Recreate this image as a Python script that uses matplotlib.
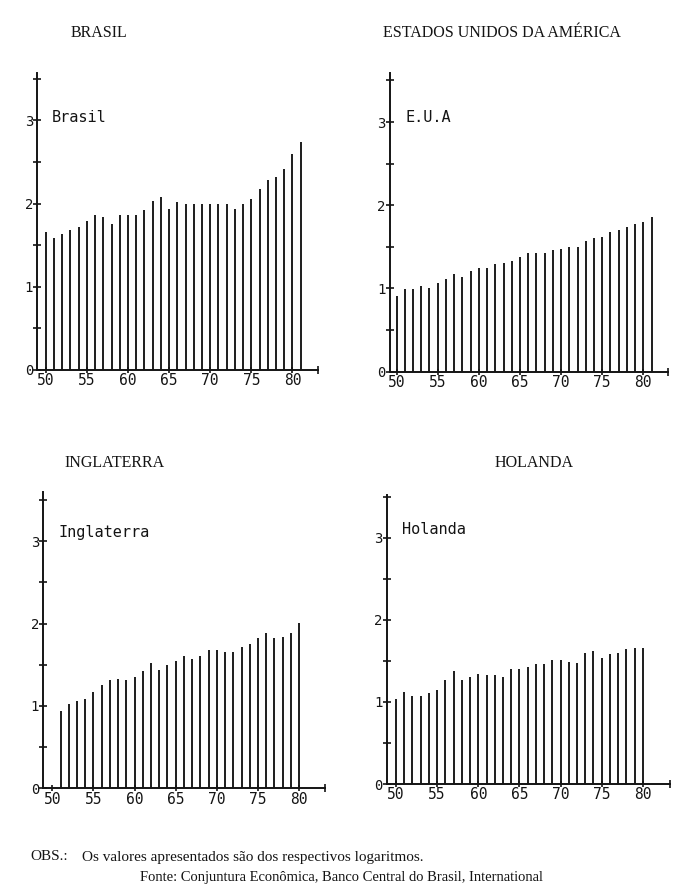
import matplotlib
matplotlib.use("Agg")
import matplotlib.pyplot as plt
from matplotlib.ticker import FixedLocator

# ---------------- data ----------------
years_bra = list(range(50, 82))
brasil = [1.66, 1.59, 1.64, 1.68, 1.72, 1.79, 1.86, 1.84, 1.76, 1.86, 1.86, 1.86,
          1.92, 2.03, 2.08, 1.94, 2.02, 2.00, 2.00, 2.00, 2.00, 2.00, 2.00, 1.94,
          2.00, 2.06, 2.18, 2.28, 2.32, 2.42, 2.60, 2.74]

years_eua = list(range(50, 82))
eua = [0.915, 0.99, 0.99, 1.03, 1.00, 1.07, 1.115, 1.175, 1.14, 1.21, 1.25, 1.25,
       1.29, 1.31, 1.33, 1.375, 1.43, 1.43, 1.43, 1.46, 1.48, 1.50, 1.50, 1.57,
       1.61, 1.62, 1.68, 1.70, 1.745, 1.78, 1.80, 1.865]

years_ing = list(range(51, 81))
inglaterra = [0.94, 1.02, 1.06, 1.085, 1.17, 1.25, 1.31, 1.33, 1.315, 1.35, 1.42,
              1.52, 1.44, 1.50, 1.54, 1.60, 1.575, 1.61, 1.68, 1.68, 1.655, 1.65,
              1.72, 1.75, 1.83, 1.88, 1.83, 1.835, 1.89, 2.01]

years_hol = list(range(50, 81))
holanda = [1.03, 1.12, 1.07, 1.07, 1.11, 1.15, 1.27, 1.38, 1.27, 1.305, 1.345,
           1.325, 1.33, 1.305, 1.395, 1.405, 1.425, 1.46, 1.46, 1.51, 1.505, 1.49,
           1.475, 1.60, 1.62, 1.54, 1.58, 1.60, 1.64, 1.66, 1.655]

xtick_vals = [50, 55, 60, 65, 70, 75, 80]
xtick_labels = ["50", "55", "60", "65", "70", "75", "80"]
ytick_vals = [0, 1, 2, 3]
ytick_labels = ["0", "1", "2", "3"]

titles = ["BRASIL", "ESTADOS UNIDOS DA AMÉRICA", "INGLATERRA", "HOLANDA"]
inner_labels = ["Brasil", "E.U.A", "Inglaterra", "Holanda"]

# ---------------- layout ----------------
W, H = 690, 885
INK = "#141414"
fig = plt.figure(figsize=(W / 100, H / 100), dpi=100)
fig.patch.set_facecolor("white")

# (left, right, baseline, top) in pixels, xlim, ylim_top
panels = [
    ((37.3, 318, 370, 73), (48.98, 83.1), 3.57, years_bra, brasil),
    ((390, 668, 371.7, 73), (49.2, 83.0), 3.59, years_eua, eua),
    ((43.3, 325, 788.3, 491.7), (48.9, 83.15), 3.60, years_ing, inglaterra),
    ((386.7, 670, 784, 495), (48.87, 83.3), 3.52, years_hol, holanda),
]
title_pos = [(99, 33), (502, 33), (115, 463), (534, 463)]
label_pos = [(52, 117), (405, 117), (59, 533), (402, 530)]

mono = "DejaVu Sans Mono"
for i, ((L, R, B, T), xl, ytop, yrs, vals) in enumerate(panels):
    ax = fig.add_axes([L / W, 1 - B / H, (R - L) / W, (B - T) / H])
    ax.set_xlim(*xl)
    ax.set_ylim(0, ytop)
    ax.vlines(yrs, 0, vals, colors=INK, linewidth=1.35)
    for s in ["top", "right"]:
        ax.spines[s].set_visible(False)
    for s in ["left", "bottom"]:
        ax.spines[s].set_linewidth(1.4)
        ax.spines[s].set_color(INK)
    ax.yaxis.set_major_locator(FixedLocator(ytick_vals))
    ax.set_yticklabels(ytick_labels, fontfamily=mono, fontsize=10, color=INK)
    ax.yaxis.set_minor_locator(FixedLocator([0.5, 1.5, 2.5, 3.5]))
    ax.xaxis.set_major_locator(FixedLocator(xtick_vals))
    ax.set_xticklabels(xtick_labels, fontfamily=mono, fontsize=10.5, color=INK)
    ax.xaxis.set_minor_locator(FixedLocator([xl[1] - 0.05]))
    ax.tick_params(axis="both", which="both", direction="inout", length=6,
                   width=1.2, color=INK)
    ax.tick_params(axis="x", which="major", pad=0, length=5)
    ax.tick_params(axis="y", which="major", pad=0)
    ax.set_facecolor("none")

    tx, ty = title_pos[i]
    fig.text(tx / W, 1 - ty / H, titles[i], ha="center", va="center",
             fontfamily="Liberation Serif", fontsize=11.5, color=INK)
    lx, ly = label_pos[i]
    fig.text(lx / W, 1 - ly / H, inner_labels[i], ha="left", va="center",
             fontfamily=mono, fontsize=11, color=INK)

fig.text(30 / W, 1 - 857 / H, "OBS.:", ha="left", va="center",
         fontfamily="Liberation Serif", fontsize=11, color=INK)
fig.text(82 / W, 1 - 857 / H, "Os valores apresentados são dos respectivos logaritmos.",
         ha="left", va="center", fontfamily="Liberation Serif", fontsize=11, color=INK)
fig.text(140 / W, 1 - 883.5 / H,
         "Fonte: Conjuntura Econômica, Banco Central do Brasil, International",
         ha="left", va="bottom", fontfamily="Liberation Serif", fontsize=10.5, color=INK)

fig.savefig("out.png", dpi=100, facecolor="white")
